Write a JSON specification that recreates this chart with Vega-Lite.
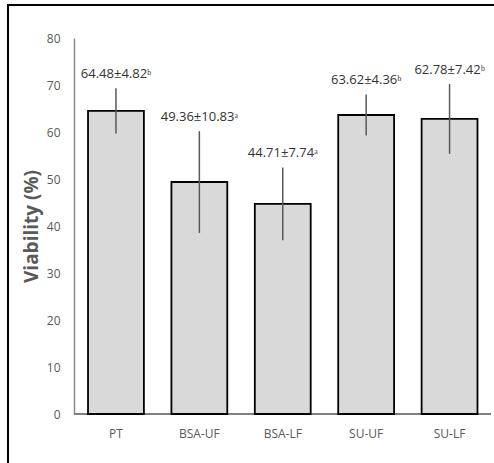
{
  "$schema": "https://vega.github.io/schema/vega-lite/v6.json",
  "width": 486,
  "height": 458,
  "autosize": "none",
  "padding": {"left": 8, "top": 5, "right": 0, "bottom": 0},
  "background": "white",
  "config": {"view": {"stroke": "#000000", "strokeWidth": 2, "strokeDash": [486, 944, 458]}, "font": "Open Sans"},
  "data": {"values": [
    {"group": "PT", "mean": 64.48, "lo": 59.66, "hi": 69.30, "label": "64.48±4.82ᵇ"},
    {"group": "BSA-UF", "mean": 49.36, "lo": 38.53, "hi": 60.19, "label": "49.36±10.83ᵃ"},
    {"group": "BSA-LF", "mean": 44.71, "lo": 36.97, "hi": 52.45, "label": "44.71±7.74ᵃ"},
    {"group": "SU-UF", "mean": 63.62, "lo": 59.26, "hi": 67.98, "label": "63.62±4.36ᵇ"},
    {"group": "SU-LF", "mean": 62.78, "lo": 55.36, "hi": 70.20, "label": "62.78±7.42ᵇ"}
  ]},
  "resolve": {"scale": {"x": "independent"}, "axis": {"x": "independent"}},
  "layer": [
    {
      "mark": {"type": "rule", "stroke": "#7f7f7f", "strokeWidth": 1.5},
      "encoding": {
        "x": {"datum": 0, "type": "quantitative", "scale": {"domain": [-0.158273, 1.007195], "nice": false, "zero": false}, "axis": null},
        "x2": {"datum": 1},
        "y": {"datum": 0, "type": "quantitative", "scale": {"domain": [0, 80], "range": [409, 33], "nice": false}}
      }
    },
    {
      "encoding": {
        "x": {
          "field": "group", "type": "nominal", "sort": null,
          "scale": {"paddingInner": 0.33, "paddingOuter": 0.5787, "align": 0.829},
          "axis": {"title": null, "labelAngle": 0, "offset": -49, "ticks": false, "domain": false, "labelColor": "#595959", "labelFontSize": 12, "labelPadding": 14}
        }
      },
      "layer": [
        {
          "mark": {"type": "bar", "fill": "#d9d9d9", "stroke": "#000000", "strokeWidth": 1.8},
          "encoding": {
            "y": {
              "field": "mean", "type": "quantitative",
              "axis": {"values": [0, 10, 20, 30, 40, 50, 60, 70, 80], "offset": -66, "ticks": false, "grid": false, "domainColor": "#8c8c8c", "domainWidth": 1.5, "labelColor": "#595959", "labelFontSize": 12, "labelPadding": 14, "title": "Viability (%)", "titleFontSize": 19, "titleFontWeight": "bold", "titleColor": "#595959", "titlePadding": 5}
            }
          }
        },
        {
          "mark": {"type": "rule", "stroke": "#595959", "strokeWidth": 1.5},
          "encoding": {
            "y": {"field": "lo", "type": "quantitative"},
            "y2": {"field": "hi"}
          }
        },
        {
          "mark": {"type": "text", "fontSize": 13, "color": "#333333", "baseline": "alphabetic", "dy": -10},
          "encoding": {
            "y": {"field": "hi", "type": "quantitative"},
            "text": {"field": "label"}
          }
        }
      ]
    }
  ]
}
